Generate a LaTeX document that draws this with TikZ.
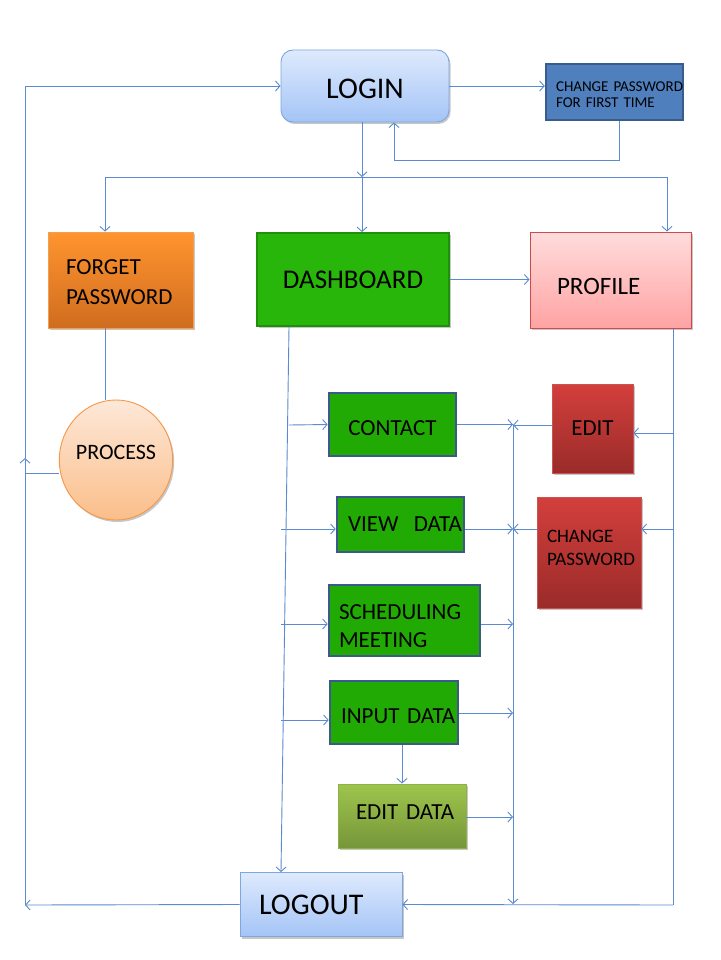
\documentclass[tikz,border=0pt]{standalone}
\usepackage{fontspec}
\setmainfont{Carlito}
\usetikzlibrary{arrows.meta,shadows,shapes.geometric}
\definecolor{lineblue}{HTML}{5A8AD0}
\definecolor{loginTop}{HTML}{DEEAFD}
\definecolor{loginBot}{HTML}{A4C4F6}
\definecolor{loginBorder}{HTML}{7EA6E0}
\definecolor{cpFill}{HTML}{4F7FBD}
\definecolor{cpBorder}{HTML}{385D8C}
\definecolor{orTop}{HTML}{FF952F}
\definecolor{orBot}{HTML}{D06C1F}
\definecolor{orBorder}{HTML}{F0A050}
\definecolor{dashFill}{HTML}{29B60A}
\definecolor{dashBorder}{HTML}{1E900B}
\definecolor{prTop}{HTML}{FFDCDC}
\definecolor{prBot}{HTML}{FFA3A3}
\definecolor{prBorder}{HTML}{D04A4A}
\definecolor{pcTop}{HTML}{FDE8D8}
\definecolor{pcBot}{HTML}{FBBE8A}
\definecolor{pcBorder}{HTML}{F79646}
\definecolor{gFill}{HTML}{22AA04}
\definecolor{gBorder}{HTML}{3B5A8A}
\definecolor{rdTop}{HTML}{D33F3C}
\definecolor{rdBot}{HTML}{9A2B29}
\definecolor{rdBorder}{HTML}{C85454}
\definecolor{edTop}{HTML}{9EC54C}
\definecolor{edBot}{HTML}{76963A}
\definecolor{edBorder}{HTML}{8DB345}
\newcommand\fsz[2]{\fontsize{#1}{#2}\selectfont}
\begin{document}
\begin{tikzpicture}[x=1pt,y=-1pt,
  conn/.style={draw=lineblue, line width=0.9pt},
  arr/.style={conn, -{Straight Barb[length=4.5pt,width=10pt,line width=0.9pt]}},
  shad/.style={drop shadow={shadow xshift=1.5pt,shadow yshift=-2pt,opacity=0.22,fill=black}},
  base/.style={rectangle, inner sep=0pt, text=black},
  lbox/.style={base, shading=axis, top color=loginTop, bottom color=loginBot, draw=loginBorder, line width=0.9pt},
  cpbox/.style={base, fill=cpFill, draw=cpBorder, line width=2.5pt},
  orbox/.style={base, shading=axis, top color=orTop, bottom color=orBot, draw=orBorder, line width=0.8pt},
  dbox/.style={base, fill=dashFill, draw=dashBorder, line width=1.8pt},
  pbox/.style={base, shading=axis, top color=prTop, bottom color=prBot, draw=prBorder, line width=1pt},
  procbox/.style={ellipse, inner sep=0pt, text=black, shading=axis, top color=pcTop, bottom color=pcBot, draw=pcBorder, line width=0.9pt},
  gbox/.style={base, fill=gFill, draw=gBorder, line width=2.6pt},
  rbox/.style={base, shading=axis, top color=rdTop, bottom color=rdBot, draw=rdBorder, line width=0.9pt},
  ebox/.style={base, shading=axis, top color=edTop, bottom color=edBot, draw=edBorder, line width=0.9pt},
]
\useasboundingbox[fill=white] (0,0) rectangle (720,960);

% nodes
\node[lbox, shad, rounded corners=12pt, minimum width=168pt, minimum height=72pt, font=\fsz{30}{32}, text height=26pt, text depth=0.7pt] (login) at (365,86) {LOGIN};
\node[cpbox, text width=117pt, inner xsep=10pt, minimum height=56pt, align=left, font=\fsz{15}{16}, text height=10pt, text depth=10pt] (cp1) at (614.5,92) {\mbox{CHANGE PASSWORD}\\\mbox{FOR FIRST TIME}};
\node[orbox, shad, text width=109pt, inner xsep=18pt, minimum height=96pt, align=left, font=\fsz{23}{30}, text height=15pt, text depth=26pt] (forget) at (120.5,280) {\mbox{FORGET}\\\mbox{PASSWORD}};
\node[dbox, shad, minimum width=192pt, minimum height=93pt, font=\fsz{27}{30}] (dash) at (353,279.5) {DASHBOARD};
\node[pbox, shad, text width=107pt, inner xsep=27pt, minimum height=96pt, align=left, text height=28pt, text depth=0pt, font=\fsz{25}{28}] (profile) at (610.5,280) {\mbox{PROFILE}};
\node[procbox, shad, minimum width=104pt, minimum height=120pt, text depth=16pt, font=\fsz{22}{24}] (process) at (116,460) {PROCESS};
\node[gbox, minimum width=127pt, minimum height=63pt, font=\fsz{23}{26}, text height=22pt, text depth=0pt] (contact) at (392.5,424.5) {CONTACT};
\node[gbox, text width=105pt, inner xsep=11pt, minimum height=55pt, align=left, font=\fsz{23}{26}] (view) at (400.5,524.5) {\mbox{VIEW\ \ DATA}};
\node[gbox, text width=131pt, inner xsep=10pt, minimum height=71pt, align=left, font=\fsz{23}{28}, text height=22pt, text depth=24.2pt] (sched) at (404.5,620.5) {\mbox{SCHEDULING}\\\mbox{MEETING}};
\node[gbox, text width=106pt, inner xsep=11pt, minimum height=63pt, align=left, font=\fsz{23}{26}, text height=22pt, text depth=0pt] (input) at (394,712.5) {\mbox{INPUT DATA}};
\node[ebox, shad, text width=92pt, inner xsep=18pt, minimum height=64pt, align=left, font=\fsz{23}{26}, text height=15pt, text depth=8.2pt] (editdata) at (402,816) {\mbox{EDIT DATA}};
\node[rbox, shad, minimum width=81pt, minimum height=89pt, font=\fsz{23}{26}] (edit) at (592.5,428.5) {EDIT};
\node[rbox, shad, text width=84pt, inner xsep=10pt, minimum height=111pt, align=left, font=\fsz{19}{23}, text height=12pt, text depth=33pt] (cpw) at (589,552.5) {\mbox{CHANGE}\\\mbox{PASSWORD}};
\node[lbox, shad, text width=124pt, inner xsep=19pt, minimum height=64pt, align=left, font=\fsz{30}{32}] (logout) at (321,904.5) {\mbox{LOGOUT}};

% junction coordinates
\coordinate (j1) at (362,177);
\coordinate (jL) at (105,177);
\coordinate (jR) at (667,177);
\coordinate (r1) at (619,160);
\coordinate (r2) at (394,160);
\coordinate (bl) at (25,905);
\coordinate (am) at (25,458);
\coordinate (pl) at (25,473);
\coordinate (d0) at (289,328);
\coordinate (d1) at (281,872);
\coordinate (b1) at (289,425);
\coordinate (b2) at (281,529);
\coordinate (b3) at (281,624);
\coordinate (b4) at (281,720);
\coordinate (ctop) at (513,425);
\coordinate (c2) at (513,529);
\coordinate (c3) at (513,624);
\coordinate (c4) at (513,713);
\coordinate (c5) at (513,817);
\coordinate (cbot) at (513,904);
\coordinate (e1) at (673,433);
\coordinate (e2) at (673,529);
\coordinate (rb) at (673,905);

% top part
\draw[arr] (login.east) -- (login.east -| cp1.west);
\draw[arr] (r1 |- cp1.south) -- (r1) -- (r2) -- (r2 |- login.south);
\draw[arr] (j1 |- login.south) -- (j1);
\draw[conn] (jL) -- (jR);
\draw[arr] (jL) -- (jL |- forget.north);
\draw[arr] (j1) -- (j1 |- dash.north);
\draw[arr] (jR) -- (jR |- profile.north);
\draw[arr] (dash.east) -- (dash.east -| profile.west);

% left loop
\draw[conn] (forget.south -| jL) -- (process.north -| jL);
\draw[conn] (process.west |- pl) -- (pl);
\draw[arr] (logout.west) -- (bl);
\draw[arr] (bl) -- (am);
\draw[arr] (am) -- (login.west -| am) -- (login.west);

% dashboard branches
\draw[arr] (dash.south -| d0) -- (logout.north -| d1);
\draw[arr] (b1) -- (contact.west);
\draw[arr] (b2) -- (b2 -| view.west);
\draw[arr] (b3) -- (b3 -| sched.west);
\draw[arr] (b4) -- (b4 -| input.west);
\draw[arr] (editdata.north |- input.south) -- (editdata.north);

% collector
\draw[arr] (ctop) -- (cbot);
\draw[arr] (contact.east) -- (contact.east -| ctop);
\draw[arr] (ctop -| edit.west) -- (ctop);
\draw[arr] (c2 -| view.east) -- (c2);
\draw[arr] (c2 -| cpw.west) -- (c2);
\draw[arr] (c3 -| sched.east) -- (c3);
\draw[arr] (c4 -| input.east) -- (c4);
\draw[arr] (c5 -| editdata.east) -- (c5);

% profile side
\draw[conn] (profile.south -| rb) -- (rb);
\draw[arr] (e1) -- (e1 -| edit.east);
\draw[arr] (e2) -- (e2 -| cpw.east);
\draw[arr] (rb) -- (logout.east);
\end{tikzpicture}
\end{document}
